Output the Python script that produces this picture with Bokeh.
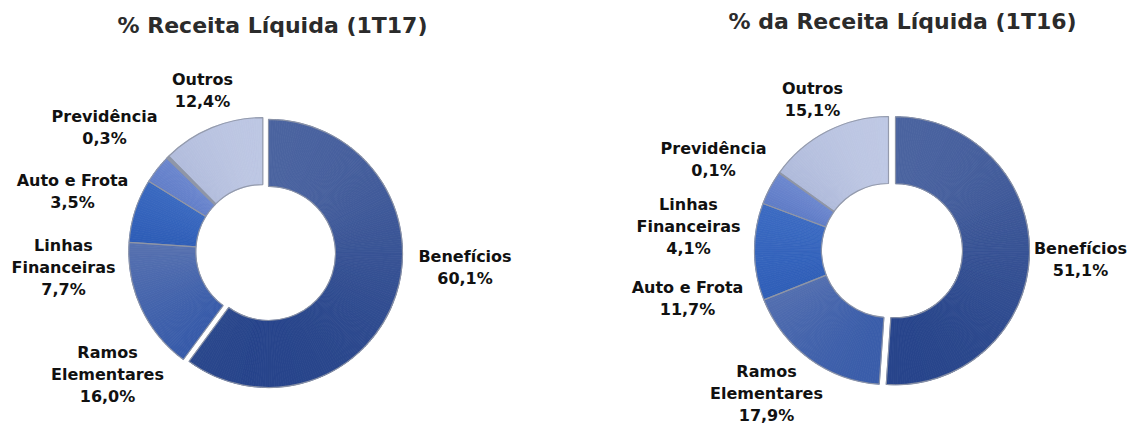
import math
import numpy as np
from bokeh.plotting import figure
from bokeh.models import Range1d, ColumnDataSource
from bokeh.embed import file_html
from bokeh.resources import INLINE
from bokeh.core.properties import value

# ---------------- data ----------------
title_1t17 = "% Receita Líquida (1T17)"
categories_1t17 = ["Benefícios", "Ramos Elementares", "Linhas Financeiras",
                   "Auto e Frota", "Previdência", "Outros"]
values_1t17 = [60.1, 16.0, 7.7, 3.5, 0.3, 12.4]

title_1t16 = "% da Receita Líquida (1T16)"
categories_1t16 = ["Benefícios", "Ramos Elementares", "Auto e Frota",
                   "Linhas Financeiras", "Previdência", "Outros"]
values_1t16 = [51.1, 17.9, 11.7, 4.1, 0.1, 15.1]

# ---------------- layout / style ----------------
W, H = 1129, 425
FONT = value("DejaVu Sans")
R_OUT, R_IN = 134, 67
LINE_H = 22

# slice colours by position (top colour, bottom colour of gradient)
grad_top = ["#5068A3", "#5872B0", "#3F6EC4", "#7892D6", "#9AA2B4", "#CBD3EB"]
grad_bot = ["#213F87", "#2C53A7", "#2D5CB6", "#5875C2", "#8089A0", "#A7B3D6"]

charts = [
    dict(title=title_1t17, cats=categories_1t17, vals=values_1t17,
         center=(262.3, 251.1), explode=6.0, title_xy=(272, 25),
         label_xy=[(464.5, 266.5), (107, 374), (63, 267), (72, 191),
                   (104, 126.5), (202, 90)]),
    dict(title=title_1t16, cats=categories_1t16, vals=values_1t16,
         center=(888, 250), explode=7.0, title_xy=(902, 21),
         label_xy=[(1080, 258.5), (766, 393), (687, 297.5), (688, 225.5),
                   (713, 158.5), (812, 99)]),
]

split_lines = {"Ramos Elementares": ["Ramos", "Elementares"],
               "Linhas Financeiras": ["Linhas", "Financeiras"]}


def hex2rgb(h):
    h = h.lstrip("#")
    return tuple(int(h[i:i + 2], 16) for i in (0, 2, 4))


def mix(c1, c2, f):
    a, b = hex2rgb(c1), hex2rgb(c2)
    return "#%02x%02x%02x" % tuple(int(round(a[i] + (b[i] - a[i]) * f)) for i in range(3))


def fmt(v):
    return ("%.1f" % v).replace(".", ",") + "%"


p = figure(width=W, height=H, x_range=Range1d(0, W), y_range=Range1d(0, H),
           x_axis_type=None, y_axis_type=None, toolbar_location=None,
           output_backend="svg", min_border=0)
p.grid.visible = False
p.outline_line_color = None
p.background_fill_color = "white"
p.border_fill_color = "white"

for ch in charts:
    vals = ch["vals"]
    total = float(sum(vals))
    cum = np.concatenate([[0.0], np.cumsum(vals) / total])
    cx0, cy0 = ch["center"]
    sub = dict(x=[], y=[], s=[], e=[], c=[])
    outl = dict(x=[], y=[], s=[], e=[])
    for i in range(len(vals)):
        t0, t1 = 2 * math.pi * cum[i], 2 * math.pi * cum[i + 1]
        cx, cy = cx0, cy0
        if i == 0:
            tm = 0.5 * (t0 + t1)
            cx += ch["explode"] * math.sin(tm)
            cy += ch["explode"] * (-math.cos(tm))  # screen y down
        ts = np.linspace(t0, t1, 80)
        ys = np.concatenate([cy - R_OUT * np.cos(ts), cy - R_IN * np.cos(ts)])
        ymin, ymax = ys.min(), ys.max()
        n = max(1, int(math.ceil((t1 - t0) / math.radians(1.0))))
        edges = np.linspace(t0, t1, n + 1)
        for k in range(n):
            ta, tb = edges[k], edges[k + 1]
            tmid = 0.5 * (ta + tb)
            ymid = cy - 0.5 * (R_OUT + R_IN) * math.cos(tmid)
            f = 0.0 if ymax == ymin else (ymid - ymin) / (ymax - ymin)
            sub["x"].append(cx)
            sub["y"].append(H - cy)
            sub["s"].append(math.pi / 2 - tb)
            sub["e"].append(math.pi / 2 - ta)
            sub["c"].append(mix(grad_top[i], grad_bot[i], f))
        outl["x"].append(cx)
        outl["y"].append(H - cy)
        outl["s"].append(math.pi / 2 - t1)
        outl["e"].append(math.pi / 2 - t0)

    p.annular_wedge(x="x", y="y", inner_radius=R_IN, outer_radius=R_OUT,
                    start_angle="s", end_angle="e", fill_color="c",
                    line_color="c", line_width=0.8,
                    source=ColumnDataSource(sub))
    p.annular_wedge(x="x", y="y", inner_radius=R_IN, outer_radius=R_OUT,
                    start_angle="s", end_angle="e", fill_color=None,
                    line_color="#8F96A6", line_width=1.2, line_alpha=0.9,
                    source=ColumnDataSource(outl))

    # labels
    lx, ly, lt = [], [], []
    for i, cat in enumerate(ch["cats"]):
        lines = split_lines.get(cat, [cat]) + [fmt(vals[i])]
        bx, by = ch["label_xy"][i]
        nl = len(lines)
        for j, t in enumerate(lines):
            lx.append(bx)
            ly.append(H - (by + (j - (nl - 1) / 2.0) * LINE_H))
            lt.append(t)
    p.text(x=lx, y=ly, text=lt, text_font=FONT, text_font_style="bold",
           text_font_size="16px", text_color="#111111",
           text_align="center", text_baseline="middle")

    tx, ty = ch["title_xy"]
    p.text(x=[tx], y=[H - ty], text=[ch["title"]], text_font=FONT,
           text_font_style="bold", text_font_size="22px",
           text_color="#2B2B2B", text_align="center", text_baseline="middle")

open("out.html", "w").write(file_html(p, INLINE))
